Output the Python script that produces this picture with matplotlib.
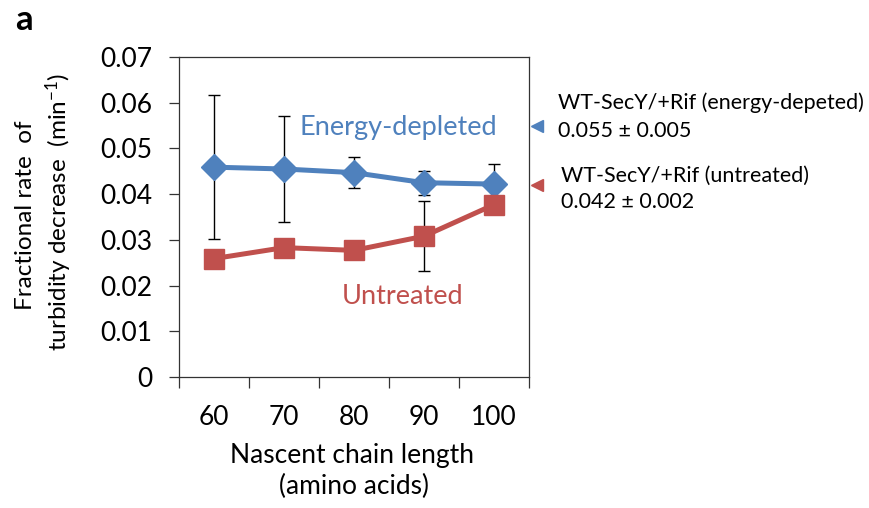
import matplotlib
matplotlib.use("Agg")
import matplotlib.pyplot as plt
import matplotlib.transforms as mtrans
from matplotlib.ticker import FixedLocator, FuncFormatter
import numpy as np

plt.rcParams['font.family'] = ['Lato', 'DejaVu Sans']
plt.rcParams['mathtext.default'] = 'regular'

# ---- data ----
categories = ["60", "70", "80", "90", "100"]
energy_depleted = [0.0459, 0.0455, 0.0447, 0.0425, 0.0422]
energy_depleted_err = [0.0157, 0.0116, 0.0034, 0.0026, 0.0045]
untreated = [0.0259, 0.0283, 0.0277, 0.0308, 0.0377]
untreated_err = [0.0010, 0.0010, 0.0010, 0.0077, 0.0010]
yticks = [0, 0.01, 0.02, 0.03, 0.04, 0.05, 0.06, 0.07]
ref_values = [0.055, 0.042]
ref_errors = [0.005, 0.002]
ref_labels = ["WT-SecY/+Rif (energy-depeted)", "WT-SecY/+Rif (untreated)"]

BLUE = '#4F81BD'
RED = '#C0504D'
W, H = 870, 508

fig = plt.figure(figsize=(W / 100, H / 100), dpi=100)
fig.patch.set_facecolor('white')
ax = fig.add_axes([179 / W, 1 - 377 / H, 350 / W, 320 / H])

x = np.arange(len(categories))

ax.errorbar(x, energy_depleted, yerr=energy_depleted_err, fmt='none',
            ecolor='black', elinewidth=1.0, capsize=4.5, capthick=1.0, zorder=2)
ax.errorbar(x, untreated, yerr=untreated_err, fmt='none',
            ecolor='black', elinewidth=1.0, capsize=4.5, capthick=1.0, zorder=2)

ax.plot(x, energy_depleted, color=BLUE, lw=3.6, marker='D', ms=13,
        mec=BLUE, mfc=BLUE, zorder=3, solid_joinstyle='round')
ax.plot(x, untreated, color=RED, lw=3.6, marker='s', ms=14.5,
        mec=RED, mfc=RED, zorder=4, solid_joinstyle='round')

ax.set_xlim(-0.5, len(categories) - 0.5)
ax.set_ylim(yticks[0], yticks[-1])

# y axis
ax.yaxis.set_major_locator(FixedLocator(yticks))
ax.yaxis.set_major_formatter(FuncFormatter(lambda v, p: f"{v:g}"))
ax.tick_params(axis='y', which='major', direction='out', length=7, width=0.9,
               labelsize=19, pad=12, colors='#333333', labelcolor='black')

# x axis: boundary ticks + centered labels
ax.xaxis.set_major_locator(FixedLocator(np.arange(len(categories) + 1) - 0.5))
ax.xaxis.set_major_formatter(FuncFormatter(lambda v, p: ""))
ax.xaxis.set_minor_locator(FixedLocator(x))
ax.xaxis.set_minor_formatter(FuncFormatter(lambda v, p: categories[int(round(v))]))
ax.tick_params(axis='x', which='major', direction='out', length=8, width=0.9,
               colors='#333333')
ax.tick_params(axis='x', which='minor', length=0, labelsize=19, pad=20,
               labelcolor='black')

for s in ax.spines.values():
    s.set_color('#333333')
    s.set_linewidth(0.9)

# inline series labels
ax.text(2.64, 0.0545, "Energy-depleted", color=BLUE, fontsize=19.5,
        ha='center', va='center')
ax.text(2.69, 0.0175, "Untreated", color=RED, fontsize=19.5,
        ha='center', va='center')

# reference markers outside right
trans = mtrans.blended_transform_factory(ax.transAxes, ax.transData)
for val, col in zip(ref_values, [BLUE, RED]):
    ax.plot([1.024], [val], linestyle='none', marker='<', ms=9,
            color=col, transform=trans, clip_on=False)


def ftxt(px, py, s, **kw):
    fig.text(px / W, 1 - py / H, s, **kw)


ftxt(558, 103, ref_labels[0], fontsize=15.5, ha='left', va='center')
ftxt(558, 131, f"{ref_values[0]:.3f} \u00b1 {ref_errors[0]:.3f}", fontsize=15.5,
     ha='left', va='center')
ftxt(561, 176, ref_labels[1], fontsize=15.5, ha='left', va='center')
ftxt(561, 202, f"{ref_values[1]:.3f} \u00b1 {ref_errors[1]:.3f}", fontsize=15.5,
     ha='left', va='center')

# axis labels
ftxt(26, 215, "Fractional rate  of", fontsize=17.5, rotation=90,
     ha='center', va='center')
ftxt(59, 212, r"turbidity decrease  (min$^{-1}$)", fontsize=17.5, rotation=90,
     ha='center', va='center')
ftxt(352, 455, "Nascent chain length", fontsize=19, ha='center', va='center')
ftxt(354, 486, "(amino acids)", fontsize=19, ha='center', va='center')

ftxt(24, 20, "a", fontsize=25, fontweight='bold', ha='center', va='center')

fig.savefig("out.png", dpi=100, facecolor='white')
